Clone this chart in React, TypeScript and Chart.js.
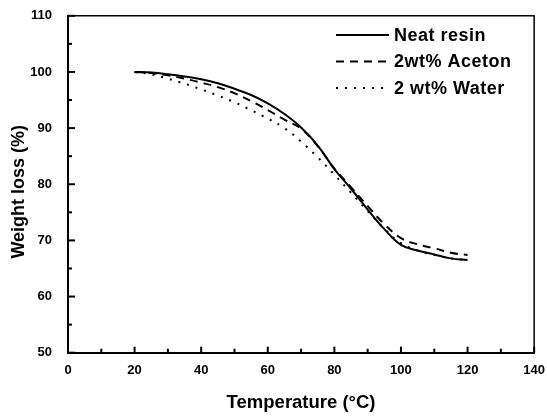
import React, { useEffect, useRef } from "react";
import { Chart, registerables } from "chart.js";

Chart.register(...registerables);

const temperatures = [20, 25, 30, 35, 40, 45, 50, 55, 60, 65, 70, 75, 80, 85, 90, 95, 100, 105, 110, 115, 120];
const neatResin = [100, 99.9, 99.6, 99.2, 98.7, 98.0, 97.0, 95.9, 94.4, 92.5, 90.1, 86.9, 82.7, 79.2, 75.5, 72.0, 69.2, 68.2, 67.5, 66.8, 66.5];
const aceton = [100, 99.8, 99.4, 98.8, 98.1, 97.3, 96.2, 94.8, 93.2, 91.5, 89.9, 86.8, 82.8, 79.5, 76.1, 72.9, 70.4, 69.3, 68.6, 67.8, 67.4];
const water = [100, 99.6, 98.8, 97.9, 96.9, 95.8, 94.6, 93.2, 91.7, 90.0, 87.6, 84.8, 81.7, 78.5, 75.2, 72.1, 69.5, 68.2, 67.4, 66.8, 66.5];
const seriesNames = ["Neat resin", "2wt% Aceton", "2 wt% Water"];
const xTitle = "Temperature (°C)";
const yTitle = "Weight loss (%)\u00A0\u00A0\u00A0";

const FONT = "'Liberation Sans', Arial, sans-serif";

const framePlugin = {
  id: "frame",
  afterDraw(chart: any) {
    const { ctx, chartArea, scales } = chart;
    const { left, right, top, bottom } = chartArea;
    const xs = scales.x;
    const ys = scales.y;
    ctx.save();
    ctx.strokeStyle = "#000";
    ctx.setLineDash([]);
    ctx.lineWidth = 1.5;
    ctx.beginPath();
    ctx.moveTo(left, top);
    ctx.lineTo(right, top);
    ctx.lineTo(right, bottom);
    ctx.stroke();
    ctx.lineWidth = 2;
    const xt = xs.ticks.map((t: any) => t.value);
    xt.forEach((v: number, i: number) => {
      const px = xs.getPixelForValue(v);
      ctx.beginPath();
      ctx.moveTo(px, bottom);
      ctx.lineTo(px, bottom - 6);
      ctx.stroke();
      if (i < xt.length - 1) {
        const mx = xs.getPixelForValue((v + xt[i + 1]) / 2);
        ctx.beginPath();
        ctx.moveTo(mx, bottom);
        ctx.lineTo(mx, bottom - 4);
        ctx.stroke();
      }
    });
    const yt = ys.ticks.map((t: any) => t.value);
    yt.forEach((v: number, i: number) => {
      const py = ys.getPixelForValue(v);
      ctx.beginPath();
      ctx.moveTo(left, py);
      ctx.lineTo(left + 7, py);
      ctx.stroke();
      if (i < yt.length - 1) {
        const my = ys.getPixelForValue((v + yt[i + 1]) / 2);
        ctx.beginPath();
        ctx.moveTo(left, my);
        ctx.lineTo(left + 4, my);
        ctx.stroke();
      }
    });
    // legend
    const lx0 = 336;
    const lx1 = 389;
    const rowY = [35, 61.5, 88];
    chart.data.datasets.forEach((ds: any, i: number) => {
      const y = rowY[i];
      ctx.strokeStyle = "#000";
      ctx.lineWidth = ds.borderWidth;
      ctx.lineCap = ds.borderCapStyle || "butt";
      ctx.setLineDash(ds.borderDash || []);
      ctx.beginPath();
      ctx.moveTo(lx0, y);
      ctx.lineTo(lx1, y);
      ctx.stroke();
      ctx.setLineDash([]);
      ctx.fillStyle = "#000";
      ctx.font = `bold 18px ${FONT}`;
      try { (ctx as any).letterSpacing = "0.5px"; } catch (e) {}
      ctx.textBaseline = "middle";
      ctx.textAlign = "left";
      ctx.fillText(ds.label, 394, y + 1);
    });
    ctx.restore();
  },
};

export default function App() {
  const ref = useRef<HTMLCanvasElement>(null);
  useEffect(() => {
    document.body.style.margin = "0";
    const mk = (vals: number[]) => temperatures.map((t, i) => ({ x: t, y: vals[i] }));
    const chart = new Chart(ref.current!, {
      type: "line",
      data: {
        datasets: [
          { label: seriesNames[0], data: mk(neatResin), borderColor: "#000", borderWidth: 2, borderDash: [], pointRadius: 0, tension: 0.4, fill: false },
          { label: seriesNames[1], data: mk(aceton), borderColor: "#000", borderWidth: 2, borderDash: [8, 6], pointRadius: 0, tension: 0.4, fill: false },
          { label: seriesNames[2], data: mk(water), borderColor: "#000", borderWidth: 2, borderDash: [2, 7], pointRadius: 0, tension: 0.4, fill: false },
        ],
      },
      options: {
        animation: false,
        responsive: false,
        maintainAspectRatio: false,
        layout: { padding: { left: 0, right: 12.5, top: 12.7, bottom: 0 } },
        plugins: { legend: { display: false }, tooltip: { enabled: false } },
        scales: {
          x: {
            type: "linear",
            min: 0,
            max: 140,
            ticks: { stepSize: 20, color: "#000", font: { family: FONT, size: 13, weight: "bold" }, padding: 2, maxRotation: 0 },
            grid: { display: false },
            border: { display: true, color: "#000", width: 2 },
            title: { display: true, text: xTitle, color: "#000", font: { family: FONT, size: 18.5, weight: "bold" }, padding: { top: 4, bottom: 4 } },
            afterFit: (s: any) => { s.height = 65.3; },
          },
          y: {
            min: 50,
            max: 110,
            ticks: { stepSize: 10, color: "#000", font: { family: FONT, size: 13, weight: "bold" }, padding: 8 },
            grid: { display: false },
            border: { display: true, color: "#000", width: 2 },
            title: { display: true, text: yTitle, color: "#000", font: { family: FONT, size: 18, weight: "bold" }, padding: { top: 8, bottom: 8 } },
            afterFit: (s: any) => { s.width = 68; },
          },
        },
      },
      plugins: [framePlugin],
    } as any);
    return () => chart.destroy();
  }, []);
  return (
    <div style={{ position: "absolute", left: 0, top: 0, width: 547, height: 418 }}>
      <canvas ref={ref} width={547} height={418} style={{ width: 547, height: 418 }} />
    </div>
  );
}
